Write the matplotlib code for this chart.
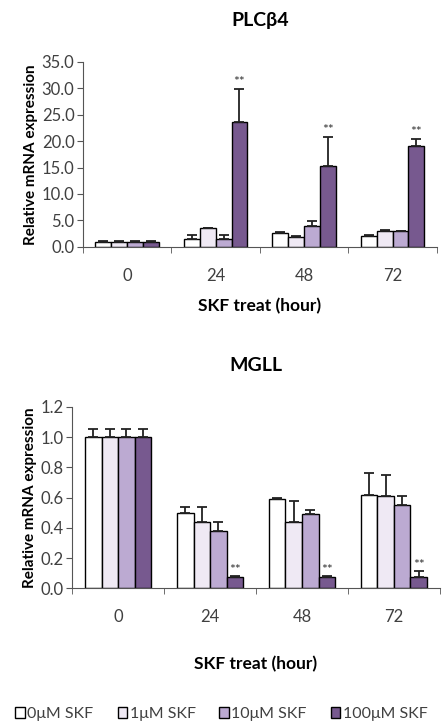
import matplotlib.pyplot as plt
import numpy as np

plt.rcParams['font.family'] = ['Lato', 'DejaVu Sans']

hours = ["0", "24", "48", "72"]
doses = ["0\u03bcM SKF", "1\u03bcM SKF", "10\u03bcM SKF", "100\u03bcM SKF"]
colors = ["#ffffff", "#efe9f4", "#bcaad2", "#77598f"]

# PLCb4: rows = dose, columns = hour
plc_mean = [
    [1.0, 1.4, 2.6, 2.1],
    [1.0, 3.6, 1.8, 2.9],
    [1.0, 1.4, 4.0, 2.9],
    [1.0, 23.6, 15.3, 19.0],
]
plc_err = [
    [0.15, 0.8, 0.2, 0.05],
    [0.1, 0.05, 0.3, 0.2],
    [0.1, 0.9, 0.8, 0.05],
    [0.1, 6.2, 5.5, 1.4],
]
plc_star = [False, True, True, True]

# MGLL
mgll_mean = [
    [1.0, 0.50, 0.59, 0.62],
    [1.0, 0.44, 0.44, 0.61],
    [1.0, 0.38, 0.49, 0.55],
    [1.0, 0.075, 0.075, 0.075],
]
mgll_err = [
    [0.055, 0.04, 0.005, 0.14],
    [0.055, 0.10, 0.14, 0.14],
    [0.055, 0.06, 0.03, 0.06],
    [0.055, 0.005, 0.005, 0.04],
]
mgll_star = [False, True, True, True]


def drawPanel(ax, title, means, errs, stars, ymax, ystep, star_pad, xlabelpad):
    x = np.arange(len(hours))
    width = 0.18
    for i in range(len(doses)):
        pos = x + (i - 1.5) * width
        err = np.array(errs[i])
        ax.bar(pos, means[i], width, color=colors[i], edgecolor="black",
               linewidth=1.0, label=doses[i], zorder=2)
        ax.errorbar(pos, means[i], yerr=[np.zeros_like(err), err], fmt="none",
                    ecolor="#222222", elinewidth=1.3, capsize=3.5, capthick=1.3, zorder=3)
    # significance marks on the 100uM bars
    top_pos = x + 1.5 * width
    for j in range(len(hours)):
        if stars[j]:
            ax.text(top_pos[j], means[3][j] + errs[3][j] + star_pad, "**",
                    ha="center", va="bottom", fontsize=10, color="#333333")
    ticks = np.arange(0, ymax + ystep / 2, ystep)
    ax.set_xlim(-0.5, len(hours) - 0.5)
    ax.set_ylim(0, ymax)
    ax.set_yticks(ticks)
    ax.set_yticklabels(["{:.1f}".format(v) for v in ticks])
    ax.set_xticks(x)
    ax.set_xticklabels(hours)
    ax.set_xticks(np.arange(-0.5, len(hours)), minor=True)
    ax.tick_params(axis="x", which="major", length=0, pad=15, labelsize=12, labelcolor="#404040")
    ax.tick_params(axis="x", which="minor", length=4, direction="out", color="#555555")
    ax.tick_params(axis="y", length=4, direction="out", color="#555555", labelsize=12,
                   labelcolor="#404040", pad=2)
    for s in ["top", "right"]:
        ax.spines[s].set_visible(False)
    ax.spines["left"].set_color("#555555")
    ax.spines["bottom"].set_color("#555555")
    ax.set_ylabel("Relative mRNA expression", fontsize=11, fontweight="bold", labelpad=3)
    ax.set_xlabel("SKF treat (hour)", fontsize=12.5, fontweight="bold", labelpad=xlabelpad)
    ax.set_title(title, fontsize=14, fontweight="bold", pad=26)


fig = plt.figure(figsize=(4.43, 7.28), dpi=100)
ax1 = fig.add_axes([0.187, 0.661, 0.799, 0.254])
ax2 = fig.add_axes([0.163, 0.192, 0.830, 0.249])

drawPanel(ax1, "PLC\u03b24", plc_mean, plc_err, plc_star, 35, 5, 0.2, 10)
drawPanel(ax2, "MGLL", mgll_mean, mgll_err, mgll_star, 1.2, 0.2, 0.0, 22)

handles, labels = ax2.get_legend_handles_labels()
fig.legend(handles, labels, loc="center", bbox_to_anchor=(0.5, 0.019), ncol=4,
           frameon=False, fontsize=11.5, handlelength=0.6, handleheight=0.6,
           handletextpad=0.15, columnspacing=1.5, labelcolor="#404040",
           borderaxespad=0, borderpad=0)

fig.savefig("out.png", dpi=100)
